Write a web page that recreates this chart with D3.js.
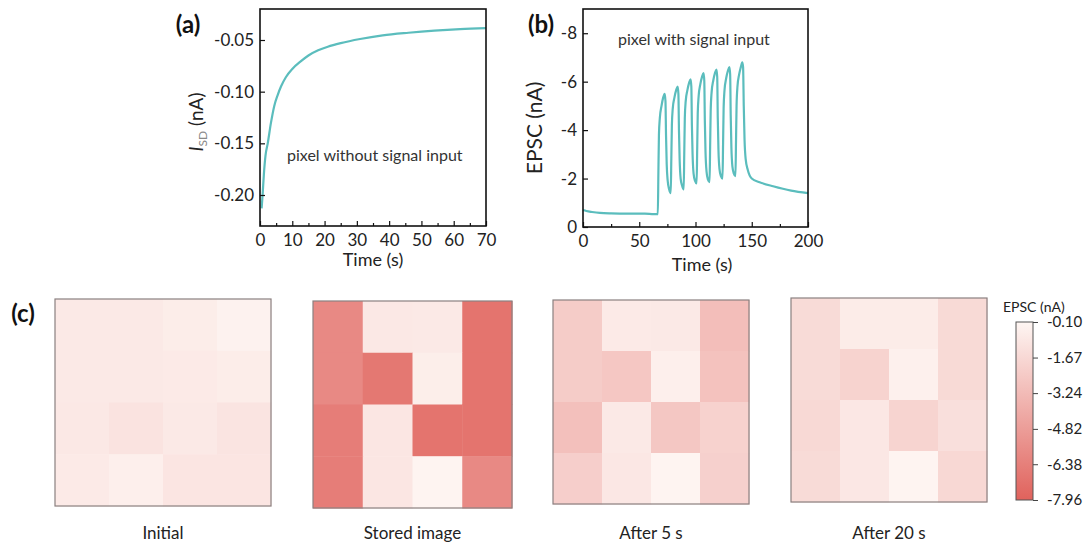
<!DOCTYPE html>
<html>
<head>
<meta charset="utf-8">
<script src="https://cdn.jsdelivr.net/npm/d3@7"></script>
<style>
  body { margin: 0; background: #fff; }
  svg { display: block; }
</style>
</head>
<body>
<script>
// panel (a): pixel without signal input
const aTime = [0.5, 0.8, 1.2, 1.7, 2.4, 3.4, 4.4, 5.5, 6.5, 8, 10, 12.5, 15, 18, 21, 25, 31, 38, 46, 54, 62, 70]
const aCurrent = [-0.213, -0.200, -0.180, -0.162, -0.150, -0.130, -0.114, -0.103, -0.095, -0.086, -0.078,
  -0.071, -0.065, -0.060, -0.0565, -0.053, -0.049, -0.0455, -0.043, -0.041, -0.0395, -0.0385]
const aXTicks = [0, 10, 20, 30, 40, 50, 60, 70]
const aXMinor = [5, 15, 25, 35, 45, 55, 65]
const aYTicks = [-0.20, -0.15, -0.10, -0.05]

// panel (b): pixel with signal input
const bTime = [0, 3, 8, 15, 25, 40, 55, 63, 66.5,
  67.0, 67.5, 68.3, 69.8, 71.3, 72.6, 73.3, 73.8, 74.4, 75.3, 76.6, 78.0,
  78.5, 79.0, 79.8, 81.3, 82.8, 84.1, 84.8, 85.3, 85.9, 86.8, 88.1, 89.5,
  90.0, 90.5, 91.3, 92.8, 94.3, 95.6, 96.3, 96.8, 97.4, 98.3, 99.6, 101.0,
  101.5, 102.0, 102.8, 104.3, 105.8, 107.1, 107.8, 108.3, 108.9, 109.8, 111.1, 112.5,
  113.0, 113.5, 114.3, 115.8, 117.3, 118.6, 119.3, 119.8, 120.4, 121.3, 122.6, 124.0,
  124.5, 125.0, 125.8, 127.3, 128.8, 130.1, 130.8, 131.3, 131.9, 132.8, 134.1, 135.5,
  136.0, 136.5, 137.3, 138.8, 140.3, 141.6, 142.3, 142.9, 143.6, 144.6, 146.5,
  150, 157, 169, 185, 200]
const bEpsc = [-0.70, -0.66, -0.62, -0.58, -0.56, -0.55, -0.55, -0.53, -0.53,
  -2.2, -3.8, -4.5, -5.0, -5.35, -5.5, -5.2, -3.8, -2.6, -1.9, -1.55, -1.4,
  -2.8, -4.2, -4.9, -5.35, -5.65, -5.8, -5.5, -4.0, -2.8, -2.0, -1.7, -1.55,
  -3.0, -4.5, -5.2, -5.65, -5.95, -6.1, -5.8, -4.2, -3.0, -2.2, -1.9, -1.8,
  -3.2, -4.7, -5.4, -5.9, -6.2, -6.35, -6.05, -4.4, -3.1, -2.3, -1.95, -1.85,
  -3.3, -4.8, -5.55, -6.05, -6.35, -6.5, -6.2, -4.5, -3.2, -2.4, -2.1, -2.0,
  -3.4, -4.9, -5.65, -6.15, -6.45, -6.6, -6.3, -4.6, -3.3, -2.5, -2.2, -2.1,
  -3.5, -5.0, -5.8, -6.3, -6.6, -6.8, -6.6, -5.0, -3.6, -2.8, -2.35,
  -2.0, -1.85, -1.68, -1.5, -1.4]
const bXTicks = [0, 50, 100, 150, 200]
const bXMinor = [25, 75, 125, 175]
const bYTicks = [0, -2, -4, -6, -8]

// panel (c): 4x4 EPSC maps (nA), rows top to bottom
const mapNames = ['Initial', 'Stored image', 'After 5 s', 'After 20 s']
const mapInitial = [
  [-0.80, -0.80, -0.60, -0.30],
  [-0.80, -0.80, -0.75, -0.60],
  [-0.85, -1.10, -0.80, -1.05],
  [-0.75, -0.45, -1.00, -1.00]]
const mapStored = [
  [-5.9, -0.85, -0.80, -7.0],
  [-5.9, -6.8, -0.55, -7.0],
  [-6.5, -0.95, -7.0, -7.0],
  [-6.5, -0.95, -0.20, -5.9]]
const mapAfter5 = [
  [-2.35, -0.75, -0.80, -3.06],
  [-2.35, -2.58, -0.45, -2.85],
  [-2.95, -0.80, -2.60, -2.00],
  [-2.20, -0.90, -0.20, -2.10]]
const mapAfter20 = [
  [-1.55, -0.65, -0.65, -1.60],
  [-1.55, -1.98, -0.40, -1.60],
  [-1.65, -0.90, -1.90, -1.30],
  [-1.55, -0.90, -0.20, -1.70]]
const barTicks = [-0.10, -1.67, -3.24, -4.82, -6.38, -7.96]

const lineColor = '#5bbdbd'
const font = 'Lato, "Open Sans", sans-serif'

const svg = d3.select('body').append('svg')
  .attr('width', 1092)
  .attr('height', 546)
  .style('font-family', font)

//axes + frame for a line panel
function framedAxes(x, y, xMajor, xMinor, yMajor, fmtY) {
  let [x0, x1] = x.range()
  let [y0, y1] = y.range()
  let g = svg.append('g')

  let xa = g.append('g').attr('transform', `translate(0,${y0})`)
    .call(d3.axisBottom(x).tickValues(xMajor).tickSizeInner(-5).tickSizeOuter(0).tickPadding(8))
  let xm = g.append('g').attr('transform', `translate(0,${y0})`)
    .call(d3.axisBottom(x).tickValues(xMinor).tickSizeInner(-3).tickSizeOuter(0).tickFormat(''))
  let ya = g.append('g').attr('transform', `translate(${x0},0)`)
    .call(d3.axisLeft(y).tickValues(yMajor).tickSizeInner(-5).tickSizeOuter(0).tickPadding(6).tickFormat(fmtY))

  ;[xa, xm, ya].forEach(a => {
    a.select('.domain').remove()
    a.selectAll('line').attr('stroke', '#111').attr('stroke-width', 1.2)
    a.selectAll('text').attr('font-family', font).attr('font-size', 17).attr('fill', '#222')
  })

  g.append('rect')
    .attr('x', x0).attr('y', y1)
    .attr('width', x1 - x0).attr('height', y0 - y1)
    .attr('fill', 'none').attr('stroke', '#111').attr('stroke-width', 1.6)
  return g
}

// ---- (a)
let ax = d3.scaleLinear().domain([0, 70]).range([260, 486])
let ay = d3.scaleLinear().domain([-0.23, -0.02]).range([226, 9])

svg.append('path')
  .datum(aTime.map((t, i) => [t, aCurrent[i]]))
  .attr('fill', 'none')
  .attr('stroke', lineColor)
  .attr('stroke-width', 2.2)
  .attr('d', d3.line().x(d => ax(d[0])).y(d => ay(d[1])).curve(d3.curveMonotoneX))

framedAxes(ax, ay, aXTicks, aXMinor, aYTicks, d => d.toFixed(2))

svg.append('text').attr('x', 373).attr('y', 266).attr('text-anchor', 'middle')
  .attr('font-size', 18).attr('fill', '#222').text('Time (s)')

let aLab = svg.append('text')
  .attr('transform', 'translate(203,122) rotate(-90)')
  .attr('text-anchor', 'middle')
  .attr('font-size', 19).attr('fill', '#222')
aLab.append('tspan').attr('font-style', 'italic').text('I')
aLab.append('tspan').attr('font-size', 12).attr('fill', '#888').attr('dy', 4).text('SD')
aLab.append('tspan').attr('dy', -4).text(' (nA)')

svg.append('text').attr('x', 287).attr('y', 161)
  .attr('font-size', 16).attr('fill', '#333').text('pixel without signal input')

svg.append('text').attr('x', 188).attr('y', 33).attr('text-anchor', 'middle')
  .attr('font-size', 24).attr('font-weight', 'bold').attr('fill', '#111').text('(a)')

// ---- (b)
let bx = d3.scaleLinear().domain([0, 200]).range([583, 808])
let by = d3.scaleLinear().domain([0, -9]).range([227, 9])

svg.append('path')
  .datum(bTime.map((t, i) => [t, bEpsc[i]]))
  .attr('fill', 'none')
  .attr('stroke', lineColor)
  .attr('stroke-width', 2.2)
  .attr('d', d3.line().x(d => bx(d[0])).y(d => by(d[1])).curve(d3.curveMonotoneX))

framedAxes(bx, by, bXTicks, bXMinor, bYTicks, d => String(d))

svg.append('text').attr('x', 702).attr('y', 271).attr('text-anchor', 'middle')
  .attr('font-size', 18).attr('fill', '#222').text('Time (s)')

svg.append('text')
  .attr('transform', 'translate(542,128) rotate(-90)')
  .attr('text-anchor', 'middle')
  .attr('font-size', 21).attr('fill', '#222').text('EPSC (nA)')

svg.append('text').attr('x', 618).attr('y', 45)
  .attr('font-size', 16).attr('fill', '#333').text('pixel with signal input')

svg.append('text').attr('x', 541).attr('y', 33).attr('text-anchor', 'middle')
  .attr('font-size', 24).attr('font-weight', 'bold').attr('fill', '#111').text('(b)')

// ---- (c)
svg.append('text').attr('x', 23).attr('y', 322).attr('text-anchor', 'middle')
  .attr('font-size', 24).attr('font-weight', 'bold').attr('fill', '#111').text('(c)')

let color = d3.scaleLinear()
  .domain([-0.10, -7.96])
  .range(['#fef6f3', '#e0625c'])
  .clamp(true)

let maps = [mapInitial, mapStored, mapAfter5, mapAfter20]
let boxes = [
  { x: 55, y: 299, w: 216, h: 207 },
  { x: 313, y: 301, w: 199, h: 207 },
  { x: 553, y: 300, w: 196, h: 204 },
  { x: 791, y: 298, w: 196, h: 204 }
]

maps.forEach((m, k) => {
  let b = boxes[k]
  let cx = d3.scaleBand().domain(d3.range(4)).range([b.x, b.x + b.w])
  let cy = d3.scaleBand().domain(d3.range(4)).range([b.y, b.y + b.h])
  let cells = []
  m.forEach((row, r) => row.forEach((v, c) => cells.push({ r, c, v })))

  let g = svg.append('g')
  g.selectAll('rect.cell')
    .data(cells)
    .enter().append('rect')
    .attr('class', 'cell')
    .attr('x', d => cx(d.c))
    .attr('y', d => cy(d.r))
    .attr('width', cx.bandwidth() + 0.5)
    .attr('height', cy.bandwidth() + 0.5)
    .attr('fill', d => color(d.v))

  g.append('rect')
    .attr('x', b.x).attr('y', b.y).attr('width', b.w).attr('height', b.h)
    .attr('fill', 'none').attr('stroke', '#8a8080').attr('stroke-width', 1.2)

  svg.append('text')
    .attr('x', b.x + b.w / 2).attr('y', 539)
    .attr('text-anchor', 'middle')
    .attr('font-size', 17).attr('fill', '#222')
    .text(mapNames[k])
})

// colorbar
let barY = d3.scaleLinear().domain([-0.10, -7.96]).range([322, 500])
let defs = svg.append('defs')
let grad = defs.append('linearGradient')
  .attr('id', 'epsc-grad')
  .attr('x1', '0%').attr('y1', '0%')
  .attr('x2', '0%').attr('y2', '100%')
grad.selectAll('stop')
  .data(color.range())
  .enter().append('stop')
  .attr('offset', (d, i) => i / (color.range().length - 1))
  .attr('stop-color', d => d)

svg.append('rect')
  .attr('x', 1016).attr('y', 322).attr('width', 17).attr('height', 178)
  .attr('fill', 'url(#epsc-grad)')
  .attr('stroke', '#555').attr('stroke-width', 1)

let bar = svg.append('g').attr('transform', 'translate(1033,0)')
  .call(d3.axisRight(barY).tickValues(barTicks).tickSizeInner(5).tickSizeOuter(0).tickPadding(9)
    .tickFormat(d => d.toFixed(2)))
bar.select('.domain').remove()
bar.selectAll('line').attr('stroke', '#444')
bar.selectAll('text').attr('font-family', font).attr('font-size', 15).attr('fill', '#222')

svg.append('text').attr('x', 1003).attr('y', 312)
  .attr('font-size', 14).attr('fill', '#222').text('EPSC (nA)')
</script>
</body>
</html>
